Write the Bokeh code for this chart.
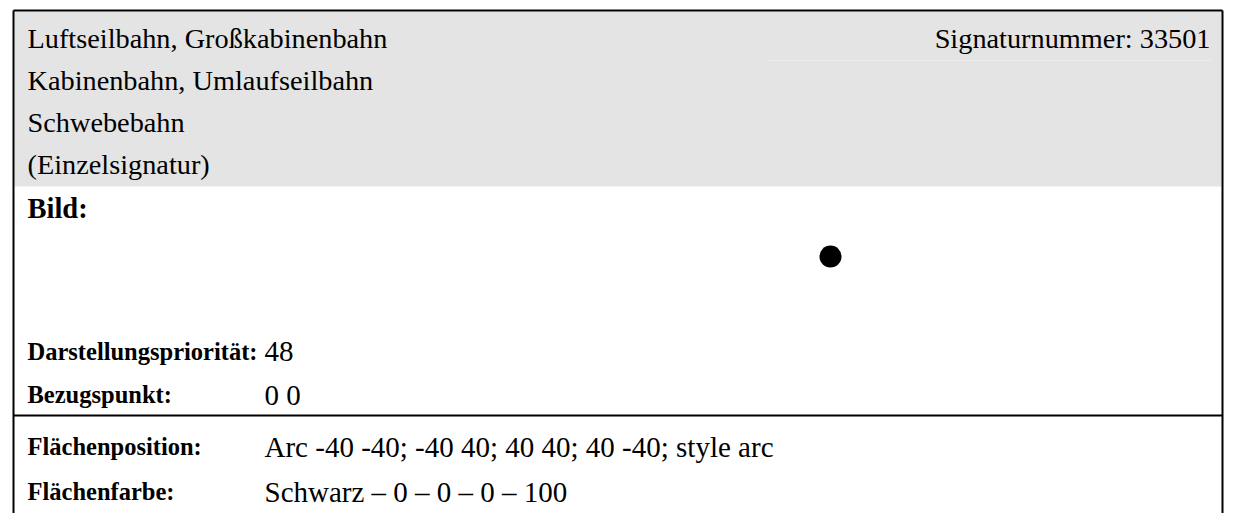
from bokeh.plotting import figure
from bokeh.models import Range1d
from bokeh.core.properties import value
from bokeh.embed import file_html
from bokeh.resources import INLINE

# ---- content ----
header_lines = ["Luftseilbahn, Großkabinenbahn", "Kabinenbahn, Umlaufseilbahn",
                "Schwebebahn", "(Einzelsignatur)"]
signature = "Signaturnummer: 33501"
image_label = "Bild:"
row_labels = ["Darstellungspriorität:", "Bezugspunkt:", "Flächenposition:", "Flächenfarbe:"]
row_values = ["48", "0 0", "Arc -40 -40; -40 40; 40 40; 40 -40; style arc",
              "Schwarz \u2013 0 \u2013 0 \u2013 0 \u2013 100"]

# ---- layout (pixels in figure space) ----
W, H = 1235, 513
FONT = value("Liberation Serif")
FS_HEAD = "28.3px"
FS_BILD = "28.5px"
FS_LABEL = "24.5px"
FS_VALUE = "29px"
left_x, right_x, top_y, mid_y = 13, 1222, 10, 415
text_x, value_x = 27, 264
header_y = [38, 80, 122, 164]
bild_y = 208
row_y = [351, 394, 446, 491]

p = figure(width=W, height=H, output_backend="svg", toolbar_location=None,
           x_range=Range1d(0, W), y_range=Range1d(H, 0), min_border=0)
p.axis.visible = False
p.grid.visible = False
p.outline_line_color = None
p.background_fill_color = "white"
p.border_fill_color = "white"

# gray header
p.quad(left=left_x + 1, right=right_x - 1, top=top_y + 1, bottom=186,
       fill_color="#e4e4e4", line_color=None)
p.segment(x0=[767], y0=[60], x1=[1212], y1=[60], line_color="#ebebeb", line_width=1)

# frame lines
p.segment(x0=[left_x, right_x, left_x, left_x], y0=[top_y, top_y, top_y, mid_y],
          x1=[left_x, right_x, right_x, right_x], y1=[H, H, top_y, mid_y],
          line_color="black", line_width=2)

# header text
p.text(x=[text_x] * len(header_lines), y=header_y, text=header_lines,
       text_font=FONT, text_font_size=FS_HEAD, text_baseline="middle", text_align="left",
       text_color="black")
p.text(x=[1210], y=[header_y[0]], text=[signature], text_font=FONT, text_font_size=FS_HEAD,
       text_baseline="middle", text_align="right", text_color="black")

# Bild
p.text(x=[text_x], y=[bild_y], text=[image_label], text_font=FONT, text_font_size=FS_BILD,
       text_font_style="bold", text_baseline="middle", text_align="left", text_color="black")
p.scatter(x=[830], y=[256], size=22, marker="circle", fill_color="black", line_color=None)

# rows
p.text(x=[text_x] * len(row_labels), y=row_y, text=row_labels, text_font=FONT,
       text_font_size=FS_LABEL, text_font_style="bold", text_baseline="middle",
       text_align="left", text_color="black")
p.text(x=[value_x] * len(row_values), y=row_y, text=row_values, text_font=FONT,
       text_font_size=FS_VALUE, text_baseline="middle", text_align="left", text_color="black")

open("out.html", "w").write(file_html(p, INLINE))
